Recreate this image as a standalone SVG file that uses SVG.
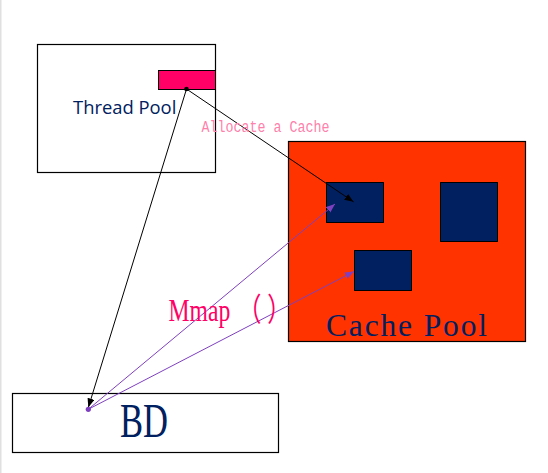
<svg xmlns="http://www.w3.org/2000/svg" width="548" height="473" viewBox="0 0 548 473">
<style>
.box{fill:#ffffff;stroke:#000000;stroke-width:1.2}
.dark{fill:#002060;stroke:#000000;stroke-width:1}
.serif{font-family:"Liberation Serif","Noto Sans CJK SC",serif;fill:#002060}
.blk{stroke:#000000;stroke-width:1;fill:none}
.pur{stroke:#7F40BF;stroke-width:1;fill:none}
</style>
<defs>
<marker id="ab" markerUnits="userSpaceOnUse" markerWidth="12" markerHeight="10" refX="9" refY="3.5" orient="auto">
<path d="M0,0 L9,3.5 L0,7 z" fill="#000000"/>
</marker>
<marker id="ap" markerUnits="userSpaceOnUse" markerWidth="12" markerHeight="10" refX="9" refY="3.5" orient="auto">
<path d="M0,0 L9,3.5 L0,7 z" fill="#7F40BF"/>
</marker>
<marker id="db" markerUnits="userSpaceOnUse" markerWidth="8" markerHeight="8" refX="4" refY="4">
<circle cx="4" cy="4" r="2.3" fill="#000000"/>
</marker>
<marker id="dp" markerUnits="userSpaceOnUse" markerWidth="8" markerHeight="8" refX="4" refY="4">
<circle cx="4" cy="4" r="2.6" fill="#7F40BF"/>
</marker>
</defs>
<rect x="0" y="0" width="548" height="473" fill="#ffffff"/>
<rect x="0" y="0" width="1.5" height="473" fill="#e0e0e0"/>

<g id="thread-pool">
<rect class="box" x="37.5" y="44.5" width="178" height="128"/>
<rect x="158.5" y="70.5" width="57" height="19" fill="#FF0066" stroke="#000000" stroke-width="1"/>
<text x="73" y="113.5" font-family="'Open Sans',sans-serif" font-size="18.4" fill="#002060">Thread Pool</text>
</g>

<g id="cache-pool">
<rect x="288.5" y="141.5" width="237" height="200" fill="#FF3300" stroke="#000000" stroke-width="1.2"/>
<rect class="dark" x="326.5" y="182.5" width="57" height="40"/>
<rect class="dark" x="440.5" y="182.5" width="57" height="59"/>
<rect class="dark" x="354.5" y="250.5" width="57" height="40"/>
<text class="serif" x="326" y="335.7" font-size="31.5" textLength="161" lengthAdjust="spacing">Cache Pool</text>
</g>

<g id="bd">
<rect class="box" x="12.5" y="393.5" width="266" height="59"/>
<text class="serif" x="120" y="436.6" font-size="49" textLength="48" lengthAdjust="spacingAndGlyphs">BD</text>
</g>

<g id="connectors">
<line class="blk" x1="186.5" y1="89" x2="88.3" y2="407.5" marker-start="url(#db)" marker-end="url(#ab)"/>
<line class="blk" x1="186.5" y1="89" x2="353.5" y2="201.8" marker-end="url(#ab)"/>
<line class="pur" x1="88.3" y1="409.3" x2="335" y2="204" marker-start="url(#dp)" marker-end="url(#ap)"/>
<line class="pur" x1="88.3" y1="409.3" x2="354" y2="271.5" marker-end="url(#ap)"/>
</g>

<text transform="translate(201.5,131.7) scale(1,1.3)" x="0" y="0" font-family="'Liberation Mono',monospace" font-size="12.5" fill="#FF80AA" textLength="128" lengthAdjust="spacingAndGlyphs">Allocate a Cache</text>
<text transform="translate(168.5,320.7) scale(0.74,1)" x="0" y="0" font-family="'Liberation Serif','Noto Sans CJK SC',serif" font-size="32" fill="#FF0066">Mmap<tspan dx="10">（</tspan><tspan dx="8">）</tspan></text>
</svg>
